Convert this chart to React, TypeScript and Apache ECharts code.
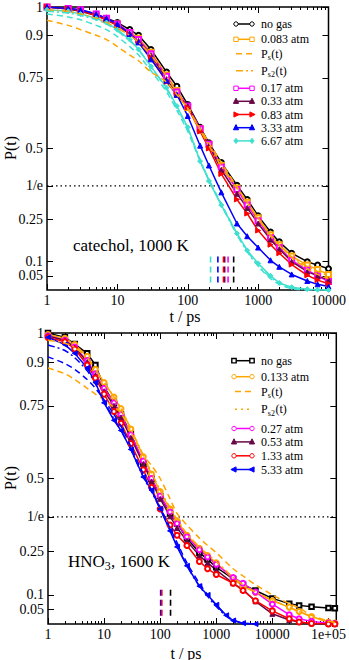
import React, { useEffect, useRef } from 'react';
import * as echarts from 'echarts';

const SERIF = 'Liberation Serif';

// ---------- TOP PANEL: catechol, 1000 K ----------
const topT = [1, 2, 3, 5, 7, 10, 15, 20, 30, 50, 70, 100, 150, 200, 300, 500, 700, 1000, 1500, 2000, 3000, 5000, 7000, 10000];
const topNoGas = [1.0, 0.995, 0.988, 0.975, 0.96, 0.945, 0.92, 0.9, 0.85, 0.77, 0.72, 0.655, 0.575, 0.52, 0.45, 0.37, 0.32, 0.262, 0.205, 0.17, 0.13, 0.1, 0.088, 0.075];
const topP0083 = [1.0, 0.993, 0.985, 0.97, 0.955, 0.94, 0.91, 0.89, 0.84, 0.76, 0.705, 0.645, 0.57, 0.515, 0.44, 0.36, 0.31, 0.255, 0.195, 0.16, 0.12, 0.088, 0.072, 0.055];
const topPs = [0.953, 0.935, 0.92, 0.9, 0.885, 0.86, 0.83, 0.81, 0.77, 0.735, 0.69, 0.64, 0.57, 0.52, 0.45, 0.365, 0.31, 0.255, 0.195, 0.16, 0.115, 0.075, 0.055, 0.04];
const topPs2 = [0.99, 0.985, 0.975, 0.96, 0.945, 0.925, 0.9, 0.875, 0.83, 0.755, 0.7, 0.642, 0.565, 0.51, 0.438, 0.358, 0.308, 0.252, 0.192, 0.157, 0.117, 0.083, 0.066, 0.05];
const topP017 = [1.0, 0.995, 0.99, 0.975, 0.96, 0.94, 0.91, 0.885, 0.835, 0.755, 0.7, 0.65, 0.57, 0.515, 0.435, 0.355, 0.3, 0.245, 0.185, 0.15, 0.105, 0.07, 0.05, 0.03];
const topP033 = [1.0, 0.993, 0.985, 0.97, 0.955, 0.935, 0.905, 0.88, 0.83, 0.745, 0.69, 0.65, 0.565, 0.51, 0.425, 0.34, 0.29, 0.235, 0.178, 0.145, 0.1, 0.065, 0.05, 0.035];
const topP083 = [1.0, 0.995, 0.988, 0.97, 0.955, 0.935, 0.905, 0.875, 0.82, 0.735, 0.69, 0.645, 0.56, 0.5, 0.41, 0.32, 0.27, 0.21, 0.16, 0.13, 0.09, 0.052, 0.035, 0.022];
const topP333 = [1.0, 0.995, 0.99, 0.975, 0.96, 0.94, 0.905, 0.875, 0.815, 0.74, 0.69, 0.615, 0.51, 0.44, 0.345, 0.235, 0.19, 0.15, 0.105, 0.082, 0.055, 0.032, 0.02, 0.012];
const topP667 = [0.99, 0.985, 0.975, 0.96, 0.945, 0.92, 0.885, 0.85, 0.79, 0.715, 0.65, 0.575, 0.455, 0.385, 0.3, 0.2, 0.14, 0.094, 0.05, 0.025, 0.01, 0.003, 0.001, 0];
const topCyanPs = [0.975, 0.965, 0.955, 0.935, 0.92, 0.895, 0.86, 0.83, 0.775, 0.7, 0.635, 0.56, 0.455, 0.39, 0.305, 0.2, 0.14, 0.085, 0.04, 0.02, 0.005, 0, 0, 0];
const topCyanPs2 = [0.985, 0.978, 0.97, 0.955, 0.94, 0.915, 0.88, 0.85, 0.79, 0.71, 0.645, 0.57, 0.46, 0.39, 0.3, 0.195, 0.135, 0.085, 0.045, 0.025, 0.008, 0.001, 0, 0];
const topTau = { cyan: 211, blue: 268, red: 322, maroon: 335, magenta: 374, black: 449 };

// ---------- BOTTOM PANEL: HNO3, 1600 K ----------
const botT = [1, 2, 3, 5, 7, 10, 15, 20, 30, 50, 70, 100, 150, 200, 300, 500, 700, 1000, 2000, 3000, 5000, 10000, 20000, 30000, 50000, 100000, 130000];
const botNoGas = [1.0, 0.985, 0.962, 0.93, 0.89, 0.815, 0.76, 0.72, 0.655, 0.55, 0.5, 0.44, 0.38, 0.345, 0.295, 0.245, 0.222, 0.195, 0.155, 0.135, 0.115, 0.088, 0.07, 0.064, 0.059, 0.055, 0.054];
const botP0133 = [0.995, 0.982, 0.96, 0.92, 0.875, 0.83, 0.78, 0.74, 0.67, 0.575, 0.515, 0.455, 0.395, 0.355, 0.305, 0.26, 0.235, 0.21, 0.155, 0.13, 0.108, 0.08, 0.058, 0.043, 0.026, 0.007, 0.003];
const botPs = [0.88, 0.86, 0.84, 0.81, 0.79, 0.77, 0.745, 0.725, 0.66, 0.58, 0.545, 0.5, 0.43, 0.38, 0.34, 0.295, 0.27, 0.245, 0.19, 0.165, 0.135, 0.1, 0.07, 0.055, 0.03, 0.01, 0.006];
const botPs2 = [0.975, 0.965, 0.95, 0.915, 0.875, 0.83, 0.78, 0.74, 0.67, 0.58, 0.52, 0.46, 0.4, 0.36, 0.31, 0.265, 0.24, 0.215, 0.16, 0.135, 0.11, 0.082, 0.057, 0.042, 0.025, 0.008, 0.005];
const botP027 = [0.99, 0.975, 0.952, 0.905, 0.86, 0.81, 0.76, 0.72, 0.65, 0.56, 0.5, 0.44, 0.385, 0.345, 0.3, 0.255, 0.23, 0.205, 0.16, 0.14, 0.11, 0.068, 0.032, 0.018, 0.009, 0.003, 0.002];
const botP053 = [0.99, 0.975, 0.95, 0.9, 0.855, 0.8, 0.75, 0.71, 0.64, 0.55, 0.49, 0.43, 0.37, 0.33, 0.285, 0.235, 0.21, 0.185, 0.14, 0.118, 0.078, 0.035, 0.014, 0.007, 0.002, 0.001, 0];
const botP133 = [0.985, 0.97, 0.945, 0.89, 0.845, 0.79, 0.73, 0.69, 0.62, 0.53, 0.47, 0.395, 0.34, 0.305, 0.27, 0.215, 0.19, 0.17, 0.14, 0.115, 0.08, 0.045, 0.018, 0.007, 0.002, 0, 0];
const botT533 = [1, 2, 3, 5, 7, 10, 15, 20, 30, 50, 70, 100, 150, 200, 300, 500, 700, 1000, 1500, 2000, 3000, 5000];
const botP533 = [0.985, 0.96, 0.93, 0.88, 0.83, 0.76, 0.7, 0.665, 0.6, 0.505, 0.46, 0.395, 0.32, 0.265, 0.2, 0.13, 0.1, 0.066, 0.03, 0.012, 0.003, 0];
const botBluePs = [0.918, 0.895, 0.875, 0.84, 0.81, 0.77, 0.72, 0.68, 0.61, 0.515, 0.46, 0.4, 0.33, 0.28, 0.21, 0.14, 0.1, 0.065, 0.03, 0.014, 0.003, 0];
const botBluePs2 = [0.959, 0.94, 0.915, 0.87, 0.825, 0.765, 0.705, 0.665, 0.6, 0.505, 0.455, 0.395, 0.325, 0.27, 0.2, 0.13, 0.095, 0.06, 0.028, 0.012, 0.003, 0];
const botTau = { blue: 102, red: 107, black: 153 };

// tick labels
const yTickValues = [0.05, 0.1, 0.25, 1 / Math.E, 0.5, 0.75, 0.9, 1];
const topXMajor = [1, 10, 100, 1000, 10000];
const botXMajor = [1, 10, 100, 1000, 10000, 100000];
const topXMax = 10000;
const botXMax = 138000;

const BLACK = '#000000';
const ORANGE = '#ffa500';
const MAGENTA = '#ff00ff';
const MAROON = '#670748';
const RED = '#ff0000';
const BLUE = '#0000ff';
const TURQ = '#40e0d0';

const LEG_FS = 12;

function minorTicks(maxV: number) {
  const out: number[] = [];
  for (let k = 0; k < 6; k++) {
    for (let m = 2; m <= 9; m++) {
      const v = m * Math.pow(10, k);
      if (v < maxV) out.push(v);
    }
  }
  return out;
}

function xAxes(gridIndex: number, maxV: number, major: number[], labelFmt: (v: number) => string) {
  const base = {
    type: 'log',
    logBase: 10,
    gridIndex,
    min: 1,
    max: maxV,
    axisLine: { show: false },
    splitLine: { show: false },
    minorTick: { show: false },
    minorSplitLine: { show: false },
  };
  const lab = { show: true, customValues: major, formatter: (v: number) => labelFmt(v), margin: 3, fontFamily: SERIF, fontSize: 14, color: '#000' };
  return [
    { ...base, position: 'bottom', axisTick: { show: true, inside: true, length: 6, customValues: major, lineStyle: { color: '#000', width: 1 } }, axisLabel: lab },
    { ...base, position: 'bottom', axisTick: { show: true, inside: true, length: 3, customValues: minorTicks(maxV), lineStyle: { color: '#000', width: 1 } }, axisLabel: { show: false } },
    { ...base, position: 'top', axisTick: { show: true, inside: true, length: 6, customValues: major, lineStyle: { color: '#000', width: 1 } }, axisLabel: { show: false } },
    { ...base, position: 'top', axisTick: { show: true, inside: true, length: 3, customValues: minorTicks(maxV), lineStyle: { color: '#000', width: 1 } }, axisLabel: { show: false } },
  ];
}

function yAxes(gridIndex: number) {
  const base = { type: 'value', gridIndex, min: 0, max: 1, axisLine: { show: false }, splitLine: { show: false } };
  return [
    {
      ...base, position: 'left',
      axisTick: { show: true, inside: true, length: 6, customValues: yTickValues, lineStyle: { color: '#000', width: 1 } },
      axisLabel: {
        show: true, customValues: yTickValues, margin: 4, fontFamily: SERIF, fontSize: 14, color: '#000',
        formatter: (v: number) => (Math.abs(v - 1 / Math.E) < 1e-4 ? '1/e' : String(Math.round(v * 1000) / 1000)),
      },
    },
    {
      ...base, position: 'right',
      axisTick: { show: true, inside: true, length: 6, customValues: yTickValues, lineStyle: { color: '#000', width: 1 } },
      axisLabel: { show: false },
    },
  ];
}

function pairs(t: number[], v: number[]) {
  return t.map((x, i) => [x, v[i]]);
}

function dataSeries(panel: number, name: string, t: number[], v: number[], color: string, symbol: string, rotate = 0, size = 5) {
  return {
    type: 'line', name, xAxisIndex: panel * 4, yAxisIndex: panel * 2,
    data: pairs(t, v), symbol, symbolSize: size, symbolRotate: rotate,
    lineStyle: { color, width: 1.5 },
    itemStyle: { color, borderColor: color, borderWidth: 1 },
    z: 3, clip: true,
  };
}

function fitSeries(panel: number, name: string, t: number[], v: number[], color: string, dash: number[]) {
  return {
    type: 'line', name, xAxisIndex: panel * 4, yAxisIndex: panel * 2,
    data: pairs(t, v), symbol: 'none', smooth: 0.3,
    lineStyle: { color, width: 1.5, type: dash },
    z: 4, clip: true,
  };
}

function tauSeries(panel: number, t: number, color: string) {
  return {
    type: 'line', xAxisIndex: panel * 4, yAxisIndex: panel * 2,
    data: [[t, 0.118], [t, 0.02]], symbol: 'none',
    lineStyle: { color, width: 1.6, type: [6, 4] }, z: 5,
  };
}

function invELine(panel: number, maxV: number) {
  return {
    type: 'line', xAxisIndex: panel * 4, yAxisIndex: panel * 2,
    data: [[1, 1 / Math.E], [maxV, 1 / Math.E]], symbol: 'none',
    lineStyle: { color: '#000', width: 1.3, type: [1.5, 3] }, z: 2,
  };
}

// ---------- legend (graphic) helpers ----------
function marker(kind: string, cx: number, cy: number, color: string) {
  const r = 2.6;
  const filled = { fill: color, stroke: color, lineWidth: 1 };
  const open = { fill: '#fff', stroke: color, lineWidth: 1 };
  switch (kind) {
    case 'circle': return { type: 'circle', shape: { cx, cy, r: 2.2 }, style: open, z: 101 };
    case 'square': return { type: 'rect', shape: { x: cx - 2.2, y: cy - 2.2, width: 4.4, height: 4.4 }, style: open, z: 101 };
    case 'squareFill': return { type: 'rect', shape: { x: cx - 2.2, y: cy - 2.2, width: 4.4, height: 4.4 }, style: { ...open, lineWidth: 1.4 }, z: 101 };
    case 'triUp': return { type: 'polygon', shape: { points: [[cx, cy - r - 0.5], [cx + r, cy + r * 0.8], [cx - r, cy + r * 0.8]] }, style: filled, z: 101 };
    case 'triRight': return { type: 'polygon', shape: { points: [[cx + r + 0.5, cy], [cx - r * 0.8, cy - r], [cx - r * 0.8, cy + r]] }, style: filled, z: 101 };
    case 'triLeft': return { type: 'polygon', shape: { points: [[cx - r - 0.5, cy], [cx + r * 0.8, cy - r], [cx + r * 0.8, cy + r]] }, style: filled, z: 101 };
    case 'diamond': return { type: 'polygon', shape: { points: [[cx, cy - r], [cx + r * 0.8, cy], [cx, cy + r], [cx - r * 0.8, cy]] }, style: filled, z: 101 };
    default: return { type: 'circle', shape: { cx, cy, r }, style: filled, z: 101 };
  }
}

function txt(text: string, x: number, y: number, size: number, align = 'left') {
  return {
    type: 'text', x, y, z: 100,
    style: {
      text, font: `${size}px ${SERIF}`, fontFamily: SERIF, fontSize: size, fill: '#000',
      textAlign: align, align, textVerticalAlign: 'middle', verticalAlign: 'middle',
    },
  };
}

function legendRow(x1: number, x2: number, tx: number, y: number, color: string, kind: string | null, label: (x: number, y: number) => any[], dash?: number[]) {
  const els: any[] = [];
  els.push({ type: 'line', shape: { x1, y1: y, x2, y2: y }, style: { stroke: color, lineWidth: 1.5, lineDash: dash || null }, z: 100 });
  if (kind) {
    els.push(marker(kind, x1, y, color));
    els.push(marker(kind, x2, y, color));
  }
  els.push(...label(tx, y));
  return els;
}

function plainText(text: string, size = LEG_FS) {
  return (x: number, y: number) => [txt(text, x, y, size)];
}

// main text, subscript, rest — as separate real texts; widths are Times-metric estimates
function subText(main: string, mainW: number, sub: string, subW: number, rest: string, size = LEG_FS) {
  return (x: number, y: number) => [
    txt(main, x, y, size),
    txt(sub, x + mainW, y + size * 0.32, Math.round(size * 0.68)),
    txt(rest, x + mainW + subW, y, size),
  ];
}

export default function App() {
  const ref = useRef<HTMLDivElement>(null);

  useEffect(() => {
    if (!ref.current) return;
    const chart = echarts.init(ref.current, null, { renderer: 'svg' });

    const topLabel = (v: number) => String(Math.round(v));
    const botLabel = (v: number) => (Math.round(v) >= 100000 ? '1e+05' : String(Math.round(v)));

    const series: any[] = [
      invELine(0, topXMax),
      dataSeries(0, 'no gas', topT, topNoGas, BLACK, 'emptyCircle'),
      dataSeries(0, '0.083 atm', topT, topP0083, ORANGE, 'emptyRect'),
      fitSeries(0, 'Ps(t)', topT, topPs, ORANGE, [6, 4]),
      fitSeries(0, 'Ps2(t)', topT, topPs2, ORANGE, [7, 3, 2, 3]),
      dataSeries(0, '0.17 atm', topT, topP017, MAGENTA, 'emptyRect'),
      dataSeries(0, '0.33 atm', topT, topP033, MAROON, 'triangle'),
      dataSeries(0, '0.83 atm', topT, topP083, RED, 'triangle', -90),
      dataSeries(0, '3.33 atm', topT, topP333, BLUE, 'triangle'),
      dataSeries(0, '6.67 atm', topT, topP667, TURQ, 'diamond'),
      fitSeries(0, 'cyan Ps', topT, topCyanPs, TURQ, [6, 4]),
      fitSeries(0, 'cyan Ps2', topT, topCyanPs2, TURQ, [7, 3, 2, 3]),
      tauSeries(0, topTau.cyan, TURQ),
      tauSeries(0, topTau.blue, BLUE),
      tauSeries(0, topTau.red, RED),
      tauSeries(0, topTau.maroon, MAROON),
      tauSeries(0, topTau.magenta, MAGENTA),
      tauSeries(0, topTau.black, BLACK),

      invELine(1, botXMax),
      dataSeries(1, 'no gas', botT, botNoGas, BLACK, 'emptyRect', 0, 4.5),
      dataSeries(1, '0.133 atm', botT, botP0133, ORANGE, 'emptyCircle'),
      fitSeries(1, 'Ps(t)', botT, botPs, ORANGE, [6, 4]),
      fitSeries(1, 'Ps2(t)', botT, botPs2, ORANGE, [7, 3, 2, 3]),
      dataSeries(1, '0.27 atm', botT, botP027, MAGENTA, 'emptyCircle'),
      dataSeries(1, '0.53 atm', botT, botP053, MAROON, 'triangle'),
      dataSeries(1, '1.33 atm', botT, botP133, RED, 'emptyCircle'),
      dataSeries(1, '5.33 atm', botT533, botP533, BLUE, 'triangle', 90),
      fitSeries(1, 'blue Ps', botT533, botBluePs, BLUE, [6, 4]),
      fitSeries(1, 'blue Ps2', botT533, botBluePs2, BLUE, [7, 3, 2, 3]),
      tauSeries(1, botTau.blue, BLUE),
      tauSeries(1, botTau.red, RED),
      tauSeries(1, botTau.black, BLACK),
    ];

    const graphic: any[] = [];
    // top legend
    const tl = [24, 39.3, 53.8, 70.7, 88.3, 101.3, 114.5, 127.7, 140.9];
    graphic.push(...legendRow(236, 252, 261, tl[0], BLACK, 'circle', plainText('no gas')));
    graphic.push(...legendRow(236, 252, 261, tl[1], ORANGE, 'square', plainText('0.083 atm')));
    graphic.push(...legendRow(236, 253, 261, tl[2], ORANGE, null, subText('P', 6.8, 's', 3.4, '(t)'), [6, 4]));
    graphic.push(...legendRow(236, 253, 261, tl[3], ORANGE, null, subText('P', 6.8, 's2', 7.6, '(t)'), [7, 3, 2, 3]));
    graphic.push(...legendRow(236, 252, 261, tl[4], MAGENTA, 'square', plainText('0.17 atm')));
    graphic.push(...legendRow(236, 252, 261, tl[5], MAROON, 'triUp', plainText('0.33 atm')));
    graphic.push(...legendRow(236, 252, 261, tl[6], RED, 'triRight', plainText('0.83 atm')));
    graphic.push(...legendRow(236, 252, 261, tl[7], BLUE, 'triUp', plainText('3.33 atm')));
    graphic.push(...legendRow(236, 252, 261, tl[8], TURQ, 'diamond', plainText('6.67 atm')));
    // bottom legend
    const bl = [360.7, 376.7, 391.5, 409.3, 428.5, 441.9, 455.8, 469.5];
    graphic.push(...legendRow(234, 252, 261, bl[0], BLACK, 'squareFill', plainText('no gas')));
    graphic.push(...legendRow(234, 252, 261, bl[1], ORANGE, 'circle', plainText('0.133 atm')));
    graphic.push(...legendRow(235, 253, 261, bl[2], ORANGE, null, subText('P', 6.8, 's', 3.4, '(t)'), [6, 4]));
    graphic.push(...legendRow(235, 253, 261, bl[3], ORANGE, null, subText('P', 6.8, 's2', 7.6, '(t)'), [2, 4]));
    graphic.push(...legendRow(234, 252, 261, bl[4], MAGENTA, 'circle', plainText('0.27 atm')));
    graphic.push(...legendRow(234, 252, 261, bl[5], MAROON, 'triUp', plainText('0.53 atm')));
    graphic.push(...legendRow(234, 252, 261, bl[6], RED, 'circle', plainText('1.33 atm')));
    graphic.push(...legendRow(234, 252, 261, bl[7], BLUE, 'triLeft', plainText('5.33 atm')));

    // axis names & annotations
    const rotName = (x: number, y: number) => ({
      type: 'text', x, y, rotation: Math.PI / 2, z: 100,
      style: { text: 'P(t)', font: `16px ${SERIF}`, fontFamily: SERIF, fontSize: 16, fill: '#000', textAlign: 'center', align: 'center', textVerticalAlign: 'middle', verticalAlign: 'middle' },
    });
    graphic.push(rotName(10, 148));
    graphic.push(rotName(10, 478));
    graphic.push(txt('t / ps', 185, 316, 16, 'center'));
    graphic.push(txt('t / ps', 186, 653, 16, 'center'));
    graphic.push(txt('catechol, 1000 K', 73, 245, 17));
    graphic.push(...subText('HNO', 36.8, '3', 6.2, ', 1600 K', 17)(68, 561));

    chart.setOption({
      animation: false,
      backgroundColor: '#fff',
      textStyle: { fontFamily: SERIF },
      grid: [
        { left: 47, top: 5, width: 285, height: 285, show: true, borderColor: '#000', borderWidth: 1.5, backgroundColor: 'transparent' },
        { left: 48, top: 333, width: 291, height: 291, show: true, borderColor: '#000', borderWidth: 1.5, backgroundColor: 'transparent' },
      ],
      xAxis: [...xAxes(0, topXMax, topXMajor, topLabel), ...xAxes(1, botXMax, botXMajor, botLabel)],
      yAxis: [...yAxes(0), ...yAxes(1)],
      series,
      graphic,
    });

    return () => chart.dispose();
  }, []);

  return <div ref={ref} style={{ position: 'absolute', left: 0, top: 0, width: 349, height: 660 }} />;
}
